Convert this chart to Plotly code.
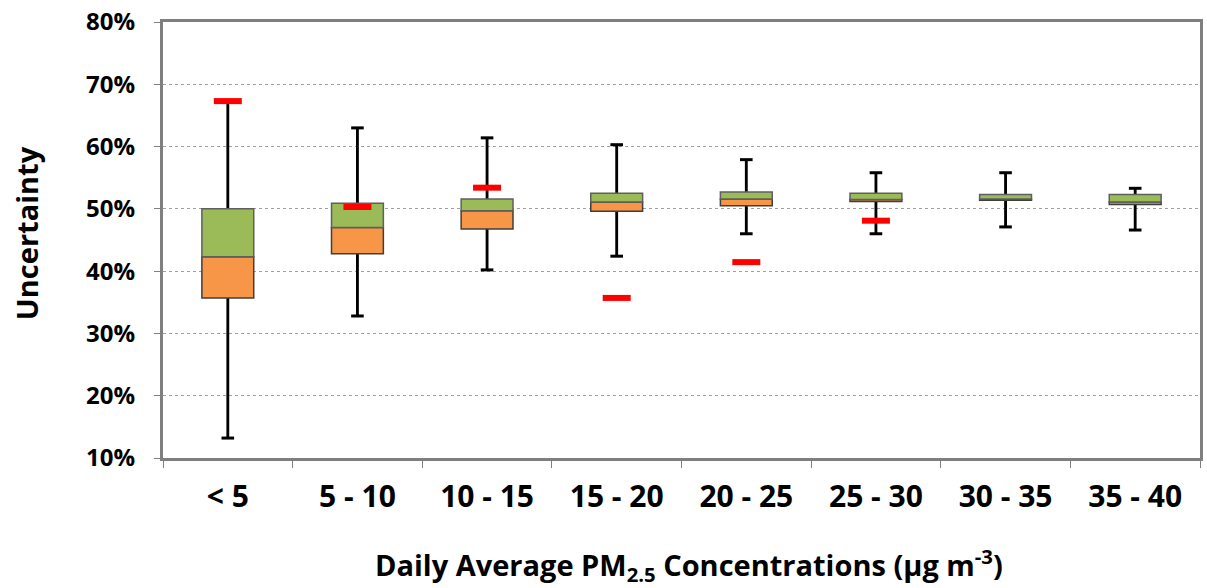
import plotly.graph_objects as go

categories = ["< 5", "5 - 10", "10 - 15", "15 - 20", "20 - 25", "25 - 30", "30 - 35", "35 - 40"]
whisker_min = [0.132, 0.328, 0.402, 0.424, 0.460, 0.460, 0.471, 0.466]
q1 = [0.357, 0.428, 0.4675, 0.496, 0.505, 0.512, 0.514, 0.507]
median = [0.423, 0.470, 0.497, 0.511, 0.516, 0.515, 0.516, 0.511]
q3 = [0.500, 0.509, 0.516, 0.525, 0.527, 0.525, 0.523, 0.523]
whisker_max = [0.673, 0.630, 0.614, 0.603, 0.579, 0.558, 0.558, 0.533]
red_mark = [0.673, 0.503, 0.534, 0.357, 0.4145, 0.481, None, None]

y_ticks = [0.1, 0.2, 0.3, 0.4, 0.5, 0.6, 0.7, 0.8]

FONT = "Open Sans"

fig = go.Figure()

# whisker lines (thin bars behind the boxes)
fig.add_trace(go.Bar(
    x=categories,
    base=whisker_min,
    y=[mx - mn for mx, mn in zip(whisker_max, whisker_min)],
    width=0.022,
    marker=dict(color="black", line=dict(width=0)),
    hoverinfo="skip", showlegend=False,
))
# lower box (Q1 -> median)
fig.add_trace(go.Bar(
    x=categories,
    base=q1,
    y=[m - a for m, a in zip(median, q1)],
    width=0.4,
    marker=dict(color="#F79646", line=dict(color="#3F3F3F", width=1.5)),
    showlegend=False,
))
# upper box (median -> Q3)
fig.add_trace(go.Bar(
    x=categories,
    base=median,
    y=[b - m for b, m in zip(q3, median)],
    width=0.4,
    marker=dict(color="#9BBB59", line=dict(color="#5F5F5F", width=1.5)),
    showlegend=False,
))
# whisker caps
fig.add_trace(go.Scatter(
    x=categories + categories,
    y=whisker_min + whisker_max,
    mode="markers",
    marker=dict(symbol="line-ew", size=9, line=dict(color="black", width=3)),
    hoverinfo="skip", showlegend=False,
))
# red markers
fig.add_trace(go.Scatter(
    x=categories,
    y=red_mark,
    mode="markers",
    marker=dict(symbol="line-ew", size=20, line=dict(color="#FF0000", width=6)),
    showlegend=False,
))

fig.update_layout(
    width=1207, height=588,
    margin=dict(l=163, r=4, t=17, b=130),
    paper_bgcolor="white", plot_bgcolor="white",
    barmode="overlay",
    font=dict(family=FONT, color="black"),
)
fig.add_annotation(
    text="<b>Uncertainty</b>", xref="paper", yref="paper", x=-0.132, y=0.516,
    showarrow=False, textangle=-90, font=dict(size=29, family=FONT),
    xanchor="center", yanchor="middle",
)
fig.add_annotation(
    text="<b>Daily Average PM<sub>2.5</sub> Concentrations (µg m<sup>-3</sup>)</b>",
    xref="paper", yref="paper", x=0.507, y=-0.246, showarrow=False,
    font=dict(size=29, family=FONT), xanchor="center", yanchor="middle",
)

fig.update_xaxes(
    type="category",
    range=[-0.5, 7.5],
    showline=True, linecolor="#7F7F7F", linewidth=3, mirror=True,
    ticks="outside", tickson="boundaries", ticklen=7, tickcolor="#7F7F7F", tickwidth=1,
    tickfont=dict(size=30, family=FONT, weight="bold"),
    ticklabelstandoff=10,
    showgrid=False,
)
fig.update_yaxes(
    range=[0.1, 0.8],
    tickvals=y_ticks, tickformat=".0%",
    showline=True, linecolor="#7F7F7F", linewidth=3, mirror=True,
    ticks="outside", ticklen=6, tickcolor="#7F7F7F", tickwidth=1,
    tickfont=dict(size=24, family=FONT, weight="bold"),
    ticklabelstandoff=14, ticklabeloverflow="allow",
    showgrid=True, gridcolor="#A0A0A0", griddash="dot", gridwidth=1,
    zeroline=False,
)

fig.write_html("out.html")
